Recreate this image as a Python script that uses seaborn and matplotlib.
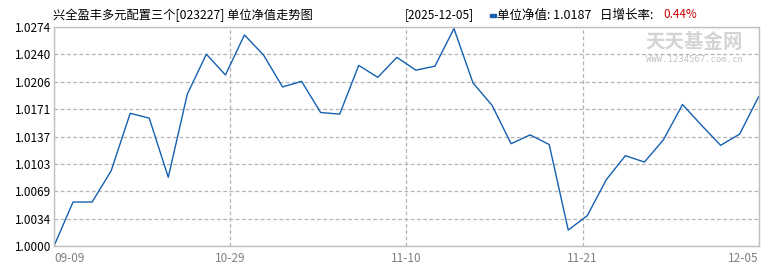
import numpy as np
import pandas as pd
import matplotlib
matplotlib.use("Agg")
import matplotlib.pyplot as plt
import seaborn as sns

# Data (unit NAV)
nav = [1.0000, 1.0055, 1.0055, 1.0094, 1.0166, 1.0160, 1.0086, 1.0190, 1.0240, 1.0214,
       1.0264, 1.0239, 1.0199, 1.0206, 1.0167, 1.0165, 1.0226, 1.0211, 1.0236, 1.0220,
       1.0225, 1.0272, 1.0204, 1.0176, 1.0128, 1.0139, 1.0127, 1.0020, 1.0038, 1.0083,
       1.0113, 1.0105, 1.0133, 1.0177, 1.0151, 1.0126, 1.0140, 1.0187]
x_labels = ["09-09", "10-29", "11-10", "11-21", "12-05"]
y_labels = ["1.0000", "1.0034", "1.0069", "1.0103", "1.0137", "1.0171", "1.0206", "1.0240", "1.0274"]
title = "兴全盈丰多元配置三个[023227] 单位净值走势图"
date_txt = "[2025-12-05]"
nav_txt = "单位净值: 1.0187"
rate_lbl = "日增长率: "
rate_val = "0.44%"

sns.set_theme(style="white")
plt.rcParams['font.family'] = ['Noto Sans CJK SC', 'DejaVu Sans']

df = pd.DataFrame({"idx": np.arange(len(nav)), "nav": nav})

fig = plt.figure(figsize=(7.7, 2.7), dpi=100)
ax = fig.add_axes([54/770, 1-246/270, (758.7-54)/770, (246-27)/270])

sns.lineplot(data=df, x="idx", y="nav", ax=ax, color="#1560b0", linewidth=1.0)

n = len(nav) - 1
ax.set_xlim(0, n)
ymin, ymax = float(y_labels[0]), float(y_labels[-1])
ax.set_ylim(ymin, ymax)
ax.set_xticks(np.linspace(0, n, len(x_labels)))
ax.set_xticklabels(x_labels)
ax.set_yticks(np.linspace(ymin, ymax, len(y_labels)))
ax.set_yticklabels(y_labels)
ax.set_xlabel("")
ax.set_ylabel("")

ax.grid(True, linestyle=(0, (3, 2)), color="#b4b4b4", linewidth=0.9)
for s in ax.spines.values():
    s.set_color("#c0c0c0")
    s.set_linewidth(1.0)
ax.tick_params(axis="x", colors="#808080", labelsize=8.5, length=0, pad=4)
ax.tick_params(axis="y", colors="#000000", labelsize=8.5, length=0, pad=2)
for lab in ax.get_xticklabels():
    lab.set_color("#808080")
xl = ax.get_xticklabels()
xl[0].set_ha("left")
xl[-1].set_ha("right")

# header texts
fig.text(53/770, 1-15/270, title, fontsize=8.8, va="center", ha="left", color="#000000")
fig.text(405/770, 1-15/270, date_txt, fontsize=8.5, va="center", ha="left", color="#000000")
fig.patches.append(plt.Rectangle((490/770, 1-16.5/270), 6/770, 3/270, transform=fig.transFigure,
                                 color="#1560b0", figure=fig))
fig.text(497/770, 1-15/270, nav_txt, fontsize=9, va="center", ha="left", color="#000000")
fig.text(600/770, 1-15/270, rate_lbl, fontsize=9, va="center", ha="left", color="#000000")
fig.text(663/770, 1-15/270, rate_val, fontsize=8.5, va="center", ha="left", color="#d00000")

# watermark
fig.text(694/770, 1-43/270, "天天基金网", fontsize=14, fontweight="bold", va="center", ha="center",
         color="#d4d4d4")
fig.text(694/770, 1-59/270, "WWW.1234567.com.cn", fontsize=6.5, va="center", ha="center",
         color="#c4c4c4", family="DejaVu Sans Mono")

fig.savefig("out.png", dpi=100)
